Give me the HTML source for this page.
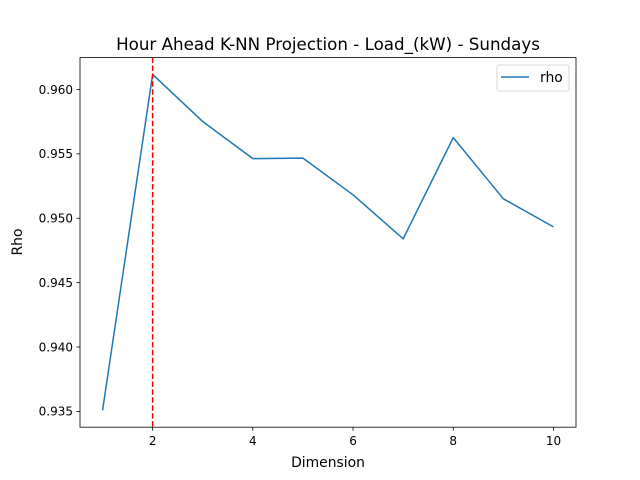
<!DOCTYPE html>
<html><head><meta charset="utf-8"><style>
body{margin:0;background:#fff;}
svg{display:block;font-family:"DejaVu Sans","Liberation Sans",sans-serif;}
</style></head><body>
<svg id="chart" width="640" height="480" xmlns="http://www.w3.org/2000/svg">
<rect width="640" height="480" fill="#fff"/>
<text x="328" y="50" font-size="16.7" text-anchor="middle">Hour Ahead K-NN Projection - Load_(kW) - Sundays</text>
<g id="xticks"></g>
<g id="yticks"></g>
<g id="plot"></g>
<rect x="80" y="57.6" width="496" height="369.6" fill="none" stroke="#000" stroke-width="0.8"/>
<text x="328" y="467" font-size="13.9" text-anchor="middle">Dimension</text>
<text x="22" y="242" font-size="13.9" text-anchor="middle" transform="rotate(-90 22 242)">Rho</text>
<g>
<rect x="497" y="65" width="72" height="26" rx="2" fill="#fff" stroke="#ccc" stroke-width="0.8"/>
<line x1="501" y1="77" x2="529" y2="77" stroke="#1f77b4" stroke-width="1.5"/>
<text x="540" y="82" font-size="13.9">rho</text>
</g>
</svg>
<script>
const dims=[1,2,3,4,5,6,7,8,9,10];
const rho=[0.93508,0.96117,0.95751,0.95463,0.95467,0.95182,0.94840,0.95626,0.95151,0.94933];
const xTickLabels=[2,4,6,8,10];
const yTickLabels=[0.935,0.940,0.945,0.950,0.955,0.960];
const bestDim=2;
const L=80,R=576,T=57.6,B=427.2;
const xmn=Math.min(...dims),xmx=Math.max(...dims),xp=(xmx-xmn)*0.05;
const ymn=Math.min(...rho),ymx=Math.max(...rho),yp=(ymx-ymn)*0.05;
const x=v=>L+(v-(xmn-xp))/((xmx+xp)-(xmn-xp))*(R-L);
const y=v=>B-(v-(ymn-yp))/((ymx+yp)-(ymn-yp))*(B-T);
const NS="http://www.w3.org/2000/svg";
function mk(t,a,p){const e=document.createElementNS(NS,t);for(const k in a)e.setAttribute(k,a[k]);p.appendChild(e);return e;}
const xg=document.getElementById('xticks'),yg=document.getElementById('yticks'),pg=document.getElementById('plot');
xTickLabels.forEach(v=>{const l=mk('line',{x1:x(v),x2:x(v),y1:B,y2:B+3.5,stroke:'#000','stroke-width':0.8},xg);


const t=mk('text',{x:x(v),y:B+18,'font-size':12,'text-anchor':'middle'},xg);t.textContent=v;

});
yTickLabels.forEach(v=>{const l=mk('line',{x1:L-3.5,x2:L,y1:y(v),y2:y(v),stroke:'#000','stroke-width':0.8},yg);


const t=mk('text',{x:L-7,y:y(v)+4.3,'font-size':12,'text-anchor':'end'},yg);t.textContent=v.toFixed(3);

});
const pl=mk('polyline',{points:dims.map((d,i)=>x(d)+','+y(rho[i])).join(' '),fill:'none',stroke:'#1f77b4','stroke-width':1.5,'stroke-linejoin':'round'},pg);


const vl=mk('line',{x1:x(bestDim),x2:x(bestDim),y1:T,y2:B,stroke:'#ff0000','stroke-width':1.5,'stroke-dasharray':'5.5,2.4'},pg);


</script>
</body></html>
